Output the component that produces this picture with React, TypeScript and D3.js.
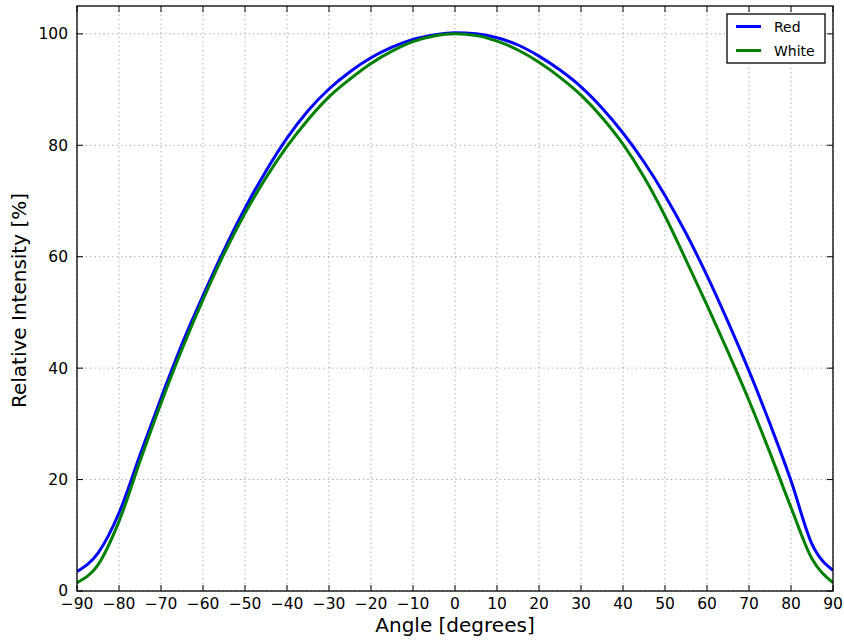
import React from "react";
import * as d3 from "d3";

const angles = [-90, -85, -80, -75, -70, -65, -60, -55, -50, -45, -40, -35, -30, -25, -20, -15, -10, -5, 0, 5, 10, 15, 20, 25, 30, 35, 40, 45, 50, 55, 60, 65, 70, 75, 80, 85, 90];
const redValues = [3.5, 6.8, 14.0, 24.4, 34.6, 44.3, 53.0, 61.2, 68.7, 75.4, 81.3, 86.2, 90.1, 93.2, 95.7, 97.6, 99.0, 99.8, 100.2, 100.0, 99.3, 98.0, 96.0, 93.5, 90.5, 86.7, 82.2, 77.0, 71.0, 64.2, 56.6, 48.3, 39.5, 30.0, 19.8, 8.4, 3.7];
const whiteValues = [1.5, 4.7, 12.5, 23.3, 33.7, 43.4, 52.3, 60.5, 67.8, 74.2, 79.8, 84.6, 88.7, 91.9, 94.7, 96.9, 98.6, 99.6, 100.0, 99.7, 98.7, 97.1, 94.9, 92.2, 89.0, 85.0, 80.2, 74.3, 67.3, 59.4, 51.3, 42.9, 34.2, 24.8, 15.0, 5.8, 1.5];
const xTicks = [-90, -80, -70, -60, -50, -40, -30, -20, -10, 0, 10, 20, 30, 40, 50, 60, 70, 80, 90];
const yTicks = [0, 20, 40, 60, 80, 100];
const seriesNames = ["Red", "White"];
const seriesColors = ["#0000ff", "#008000"];

const W = 844, H = 642;
const L = 77, R = 833, T = 6, B = 591;

export default function App() {
  const x = d3.scaleLinear().domain([-90, 90]).range([L, R]);
  const y = d3.scaleLinear().domain([0, 105]).range([B, T]);
  const line = d3
    .line<number>()
    .x((_, i) => x(angles[i]))
    .y((d) => y(d))
    .curve(d3.curveMonotoneX);
  const series = [redValues, whiteValues];
  const font = "'DejaVu Sans', sans-serif";
  const fmt = (v: number) => (v < 0 ? "\u2212" + Math.abs(v) : String(v));

  return (
    <svg width={W} height={H} style={{ position: "absolute", left: 0, top: 0, background: "#fff" }} fontFamily={font}>
      <rect x={0} y={0} width={W} height={H} fill="#fff" />
      {xTicks.map((t) => (
        <line key={"gx" + t} x1={x(t)} x2={x(t)} y1={T} y2={B} stroke="#9a9a9a" strokeWidth={1} strokeDasharray="1.2,3.2" />
      ))}
      {yTicks.map((t) => (
        <line key={"gy" + t} x1={L} x2={R} y1={y(t)} y2={y(t)} stroke="#9a9a9a" strokeWidth={1} strokeDasharray="1.2,3.2" />
      ))}
      <defs>
        <clipPath id="clip">
          <rect x={L} y={T} width={R - L} height={B - T} />
        </clipPath>
      </defs>
      <g clipPath="url(#clip)">
        {series.map((s, i) => (
          <path key={i} d={line(s) || ""} fill="none" stroke={seriesColors[i]} strokeWidth={3} strokeLinejoin="round" />
        ))}
      </g>
      {xTicks.map((t) => (
        <g key={"tx" + t}>
          <line x1={x(t)} x2={x(t)} y1={B} y2={B - 6} stroke="#000" strokeWidth={1} />
          <line x1={x(t)} x2={x(t)} y1={T} y2={T + 6} stroke="#000" strokeWidth={1} />
          <text x={x(t)} y={609} textAnchor="middle" fontSize={15.5} fill="#000">
            {fmt(t)}
          </text>
        </g>
      ))}
      {yTicks.map((t) => (
        <g key={"ty" + t}>
          <line x1={L} x2={L + 6} y1={y(t)} y2={y(t)} stroke="#000" strokeWidth={1} />
          <line x1={R} x2={R - 6} y1={y(t)} y2={y(t)} stroke="#000" strokeWidth={1} />
          <text x={L - 9} y={y(t) - (t === 0 ? 1 : 0)} dy="0.36em" textAnchor="end" fontSize={15.5} fill="#000">
            {t}
          </text>
        </g>
      ))}
      <rect x={L} y={T} width={R - L} height={B - T} fill="none" stroke="#000" strokeWidth={1.3} />
      <text x={(L + R) / 2} y={632} textAnchor="middle" fontSize={20} fill="#000">
        Angle [degrees]
      </text>
      <text transform={`translate(26,${(T + B) / 2 + 2}) rotate(-90)`} textAnchor="middle" fontSize={20} fill="#000">
        Relative Intensity [%]
      </text>
      <rect x={727} y={14} width={98} height={49} fill="#fff" stroke="#000" strokeWidth={1.3} />
      {seriesNames.map((n, i) => (
        <g key={n}>
          <line x1={736} x2={761} y1={26.5 + i * 24} y2={26.5 + i * 24} stroke={seriesColors[i]} strokeWidth={3} />
          <text x={774} y={26.5 + i * 24} dy="0.36em" fontSize={14} fill="#000">
            {n}
          </text>
        </g>
      ))}
    </svg>
  );
}
